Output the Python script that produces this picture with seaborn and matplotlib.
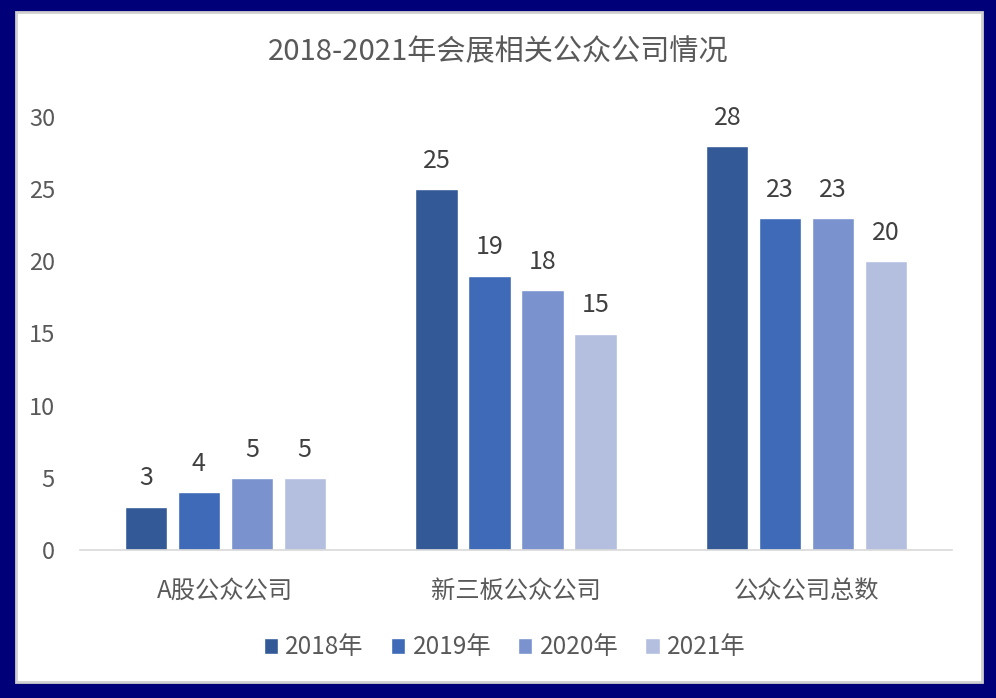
import matplotlib
matplotlib.use("Agg")
import matplotlib.pyplot as plt
from matplotlib.patches import Rectangle
import seaborn as sns
import pandas as pd

categories = ["A股公众公司", "新三板公众公司", "公众公司总数"]
years = ["2018年", "2019年", "2020年", "2021年"]
values_2018 = [3, 25, 28]
values_2019 = [4, 19, 23]
values_2020 = [5, 18, 23]
values_2021 = [5, 15, 20]
yticks = [0, 5, 10, 15, 20, 25, 30]
title = "2018-2021年会展相关公众公司情况"
colors = ["#335A97", "#3E6AB7", "#7A93CF", "#B4BFDF"]

rows = []
for yr, vals in zip(years, [values_2018, values_2019, values_2020, values_2021]):
    for c, v in zip(categories, vals):
        rows.append({"类别": c, "年份": yr, "数量": v})
df = pd.DataFrame(rows)

sns.set_theme(style="white")
plt.rcParams["font.family"] = ["Noto Sans CJK SC", "DejaVu Sans"]

W, H = 996, 698
fig = plt.figure(figsize=(W / 100, H / 100), dpi=100)
fig.patch.set_facecolor("#000078")
# white card
card = Rectangle((16 / W, 1 - 682 / H), (982 - 16) / W, (682 - 12) / H,
                 transform=fig.transFigure, facecolor="white",
                 edgecolor="#D0D0D0", linewidth=2, zorder=-10)
fig.patches.append(card)

ax = fig.add_axes([80 / W, 1 - 550 / H, (952 - 80) / W, (550 - 117) / H])
ax.set_facecolor("none")
ax.set_zorder(5)

sns.barplot(data=df, x="类别", y="数量", hue="年份", palette=colors,
            width=0.728, gap=0.2, ax=ax, saturation=1, legend=True)

for cont in ax.containers:
    ax.bar_label(cont, padding=11, fontsize=18, color="#404040")

ax.set_xlim(-0.5, 2.5)
ax.set_ylim(0, 30)
ax.set_yticks(yticks)
ax.set_yticklabels([str(t) for t in yticks])
ax.tick_params(axis="y", labelsize=17, colors="#595959", length=0, pad=18)
ax.tick_params(axis="x", labelsize=17.5, colors="#595959", length=0, pad=20)
ax.set_xlabel("")
ax.set_ylabel("")
for s in ["top", "right", "left"]:
    ax.spines[s].set_visible(False)
ax.spines["bottom"].set_color("#D9D9D9")
ax.spines["bottom"].set_linewidth(1.2)

fig.text(498 / W, 1 - 52 / H, title, ha="center", va="center",
         fontsize=21, color="#595959")

leg = ax.legend(loc="center", bbox_to_anchor=(0.487, -0.225), ncol=4,
                frameon=False, fontsize=17.5, handlelength=0.6, handleheight=0.6,
                handletextpad=0.3, columnspacing=1.1, labelcolor="#595959")

fig.savefig("out.png", dpi=100, facecolor=fig.get_facecolor())
